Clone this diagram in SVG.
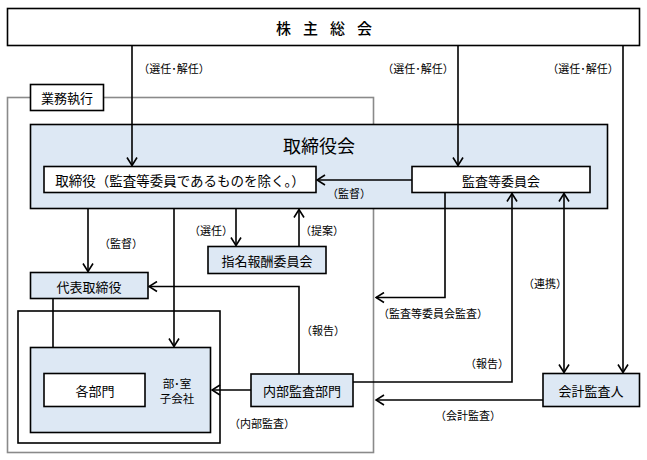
<svg xmlns="http://www.w3.org/2000/svg" width="647" height="460" viewBox="0 0 647 460">
<defs>
<style>
text{font-family:"Noto Sans CJK JP","Noto Sans CJK SC",sans-serif;fill:#000;text-anchor:middle;dominant-baseline:central}
.box{stroke:#000;stroke-width:1.6;fill:#fff}
.blue{stroke:#000;stroke-width:1.6;fill:#dde8f4}
.t{font-size:13px}
.lb{font-size:11px}
.c{fill:none;stroke:#000;stroke-width:1.6}
</style>
<marker id="ah" viewBox="0 0 12 12" refX="11" refY="6" markerWidth="12" markerHeight="12" markerUnits="userSpaceOnUse" orient="auto-start-reverse">
<path d="M3,1 L11,6 L3,11" fill="none" stroke="#000" stroke-width="1.6"/>
</marker>
</defs>
<rect width="647" height="460" fill="#fff"/>

<g id="gray-frame">
<rect x="7.5" y="97.5" width="366" height="355" fill="none" stroke="#8a8a8a" stroke-width="1.6"/>
</g>

<g id="kabunushi">
<rect class="box" x="7.5" y="8.5" width="632" height="37"/>
<text x="324" y="27" font-size="15" font-weight="500" letter-spacing="12" dx="6">株主総会</text>
</g>

<g id="gyomu">
<rect class="box" x="30.5" y="84.5" width="73" height="26"/>
<text class="t" x="67" y="97.5">業務執行</text>
</g>

<g id="torishimariyakukai">
<rect class="blue" x="30.5" y="124.5" width="577" height="84"/>
<text x="319" y="145" font-size="18">取締役会</text>
</g>

<g id="torishimariyaku">
<rect class="box" x="44" y="166.5" width="272" height="26"/>
<text x="180" y="180" font-size="13.5">取締役（監査等委員であるものを除く。）</text>
</g>

<g id="kansatoiinkai">
<rect class="box" x="412" y="166.5" width="178" height="26"/>
<text class="t" x="501" y="180">監査等委員会</text>
</g>

<g id="shimei">
<rect class="blue" x="208" y="246.5" width="118" height="27"/>
<text class="t" x="267" y="260">指名報酬委員会</text>
</g>

<g id="daihyo">
<rect class="blue" x="30.5" y="272.5" width="117.5" height="26"/>
<text class="t" x="89" y="286">代表取締役</text>
</g>

<g id="outer-box">
<rect class="box" x="18" y="311" width="202" height="132"/>
</g>

<g id="bushitsu">
<rect class="blue" x="30.5" y="347.5" width="180" height="85"/>
<text font-size="11.5" x="177" y="383">部･室</text>
<text font-size="11.5" x="177" y="398">子会社</text>
</g>

<g id="kakubumon">
<rect class="box" x="44" y="373.5" width="101" height="33"/>
<text class="t" x="95" y="390">各部門</text>
</g>

<g id="naibukansa">
<rect class="blue" x="251" y="374" width="102" height="32.5"/>
<text class="t" x="302" y="390">内部監査部門</text>
</g>

<g id="kaikei">
<rect class="blue" x="543" y="373.5" width="96.5" height="33"/>
<text class="t" x="591" y="390">会計監査人</text>
</g>

<g id="connectors">
<path class="c" d="M132,45.5 V165.5" marker-end="url(#ah)"/>
<path class="c" d="M458,45.5 V165.5" marker-end="url(#ah)"/>
<path class="c" d="M623,45.5 V372.5" marker-end="url(#ah)"/>
<path class="c" d="M412,180 H317" marker-end="url(#ah)"/>
<path class="c" d="M88,208.5 V271.5" marker-end="url(#ah)"/>
<path class="c" d="M174,208.5 V346.5" marker-end="url(#ah)"/>
<path class="c" d="M236,208.5 V245.5" marker-end="url(#ah)"/>
<path class="c" d="M299,246.5 V209.5" marker-end="url(#ah)"/>
<path class="c" d="M53,298.5 V347.5"/>
<path class="c" d="M251,390 H212" marker-end="url(#ah)"/>
<path class="c" d="M299,374 V286.5 H149" marker-end="url(#ah)"/>
<path class="c" d="M445,192.5 V297.5 H376" marker-end="url(#ah)"/>
<path class="c" d="M353,382 H512 V193.5" marker-end="url(#ah)"/>
<path class="c" d="M564,193.5 V372.5" marker-start="url(#ah)" marker-end="url(#ah)"/>
<path class="c" d="M543,400 H376" marker-end="url(#ah)"/>
</g>

<g id="labels">
<text class="lb" x="174" y="68">（選任･解任）</text>
<text class="lb" x="418" y="68">（選任･解任）</text>
<text class="lb" x="583" y="68">（選任･解任）</text>
<text class="lb" x="349" y="193">（監督）</text>
<text class="lb" x="121" y="243">（監督）</text>
<text class="lb" x="211" y="230">（選任）</text>
<text class="lb" x="322" y="230">（提案）</text>
<text class="lb" x="323" y="330">（報告）</text>
<text class="lb" x="262" y="423">（内部監査）</text>
<text class="lb" x="433" y="313">（監査等委員会監査）</text>
<text class="lb" x="487" y="363">（報告）</text>
<text class="lb" x="545" y="283">（連携）</text>
<text class="lb" x="468" y="415">（会計監査）</text>
</g>
</svg>
